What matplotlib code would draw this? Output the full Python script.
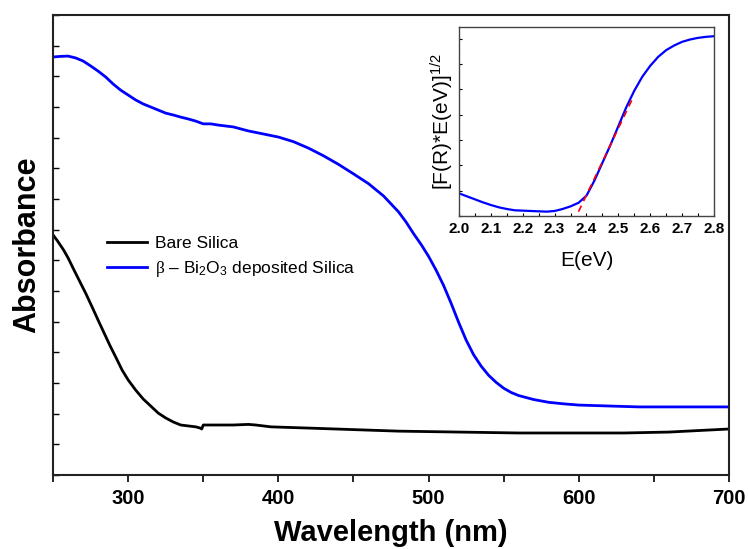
import matplotlib
matplotlib.use("Agg")
import matplotlib.pyplot as plt
from matplotlib.ticker import MultipleLocator, NullFormatter

plt.rcParams['font.family'] = ['Liberation Sans', 'DejaVu Sans']
plt.rcParams['mathtext.fontset'] = 'custom'
plt.rcParams['mathtext.rm'] = 'Liberation Sans'
plt.rcParams['mathtext.it'] = 'Liberation Sans:italic'
plt.rcParams['mathtext.bf'] = 'Liberation Sans:bold'
plt.rcParams['mathtext.sf'] = 'Liberation Serif'

# UV-Vis absorbance spectra (arbitrary units)
wl_bi2o3 = [250, 255, 260, 265, 270, 275, 280, 285, 290, 295, 300, 305, 310,
            315, 320, 325, 330, 335, 340, 345, 350, 355, 360, 370, 380, 390,
            400, 410, 420, 430, 440, 450, 460, 470, 480, 485, 490, 495, 500,
            505, 510, 515, 520, 525, 530, 535, 540, 545, 550, 555, 560, 570,
            580, 590, 600, 620, 640, 660, 680, 700]
abs_bi2o3 = [1.363, 1.365, 1.366, 1.360, 1.350, 1.334, 1.317, 1.298, 1.275,
             1.255, 1.239, 1.223, 1.210, 1.200, 1.190, 1.180, 1.174, 1.167,
             1.161, 1.154, 1.145, 1.145, 1.141, 1.135, 1.122, 1.112, 1.102,
             1.087, 1.066, 1.041, 1.013, 0.982, 0.950, 0.910, 0.858, 0.825,
             0.787, 0.752, 0.713, 0.668, 0.618, 0.560, 0.498, 0.440, 0.392,
             0.355, 0.325, 0.302, 0.283, 0.269, 0.259, 0.246, 0.237, 0.232,
             0.228, 0.225, 0.222, 0.222, 0.222, 0.222]

wl_bare = [250, 253, 257, 260, 264, 268, 272, 276, 280, 284, 288, 292, 296,
           300, 305, 310, 315, 320, 325, 330, 335, 340, 345, 348, 349, 350,
           355, 370, 380, 385, 395, 420, 450, 480, 520, 560, 600, 630, 660,
           700]
abs_bare = [0.783, 0.763, 0.734, 0.708, 0.668, 0.629, 0.590, 0.548, 0.505,
            0.463, 0.421, 0.382, 0.342, 0.310, 0.277, 0.248, 0.225, 0.202,
            0.186, 0.173, 0.163, 0.160, 0.157, 0.153, 0.150, 0.163, 0.163,
            0.163, 0.165, 0.163, 0.157, 0.153, 0.148, 0.143, 0.140, 0.137,
            0.137, 0.137, 0.140, 0.150]

# Tauc plot of the deposited film
energy = [2.000, 2.025, 2.050, 2.075, 2.100, 2.125, 2.150, 2.175, 2.200,
          2.225, 2.250, 2.275, 2.300, 2.325, 2.350, 2.375, 2.400, 2.425,
          2.450, 2.475, 2.500, 2.525, 2.550, 2.575, 2.600, 2.625, 2.650,
          2.675, 2.700, 2.725, 2.750, 2.775, 2.800]
tauc = [0.895, 0.776, 0.658, 0.539, 0.434, 0.342, 0.276, 0.224, 0.211,
        0.197, 0.184, 0.171, 0.197, 0.276, 0.380, 0.520, 0.800, 1.400,
        2.100, 2.800, 3.550, 4.300, 4.950, 5.500, 5.934, 6.289, 6.553,
        6.737, 6.882, 6.974, 7.039, 7.079, 7.105]
fit_e = [2.375, 2.542]
fit_y = [0.17, 4.57]

fig = plt.figure(figsize=(7.48, 5.49), dpi=100)
ax = fig.add_axes([0.0709, 0.1348, 0.9037, 0.8379])

ax.plot(wl_bare, abs_bare, color='black', lw=2.0, label='Bare Silica',
        solid_joinstyle='round')
ax.plot(wl_bi2o3, abs_bi2o3, color='#0000ff', lw=2.0, solid_joinstyle='round',
        label=r'$\mathsf{\beta}$ – Bi$_2$O$_3$ deposited Silica')

ax.set_xlim(250, 700)
ax.set_ylim(0, 1.5)
ax.xaxis.set_major_locator(MultipleLocator(100))
ax.xaxis.set_minor_locator(MultipleLocator(50))
ax.yaxis.set_major_locator(MultipleLocator(0.1))
ax.yaxis.set_major_formatter(NullFormatter())
ax.tick_params(axis='x', which='both', direction='out', length=5, width=1.2,
               labelsize=14.5, pad=5)
ax.tick_params(axis='y', which='both', direction='in', length=4, width=1.0)
for lab in ax.get_xticklabels():
    lab.set_fontweight('bold')
for sp in ax.spines.values():
    sp.set_linewidth(1.5)
    sp.set_color('#222222')

ax.set_xlabel('Wavelength (nm)', fontsize=21, fontweight='bold', labelpad=8)
ax.set_ylabel('Absorbance', fontsize=22, fontweight='bold', labelpad=4)

ax.legend(loc='upper left', bbox_to_anchor=(0.069, 0.535), frameon=False,
          fontsize=12.5, handlelength=2.3, handletextpad=0.5,
          labelspacing=0.45, borderaxespad=0)

# Inset: band-gap estimate
ins = fig.add_axes([0.6136, 0.6066, 0.3409, 0.3443])
ins.plot(energy, tauc, color='#0000ff', lw=1.6, solid_joinstyle='round')
ins.plot(fit_e, fit_y, color='red', lw=1.2, ls=(0, (4, 3)))
ins.set_xlim(2.0, 2.8)
ins.set_ylim(0, 7.47)
ins.xaxis.set_major_locator(MultipleLocator(0.1))
ins.xaxis.set_minor_locator(MultipleLocator(0.05))
ins.yaxis.set_major_locator(MultipleLocator(1))
ins.yaxis.set_major_formatter(NullFormatter())
ins.tick_params(axis='both', which='both', direction='in', length=2.5,
                width=0.8, labelsize=11, pad=4)
for lab in ins.get_xticklabels():
    lab.set_fontweight('bold')
for sp in ins.spines.values():
    sp.set_linewidth(1.0)
    sp.set_color('#444444')
ins.set_xlabel('E(eV)', fontsize=15, labelpad=11)
ins.set_ylabel(r'[F(R)*E(eV)]$^{1/2}$', fontsize=15, labelpad=-2)

fig.savefig('out.png', dpi=100)
